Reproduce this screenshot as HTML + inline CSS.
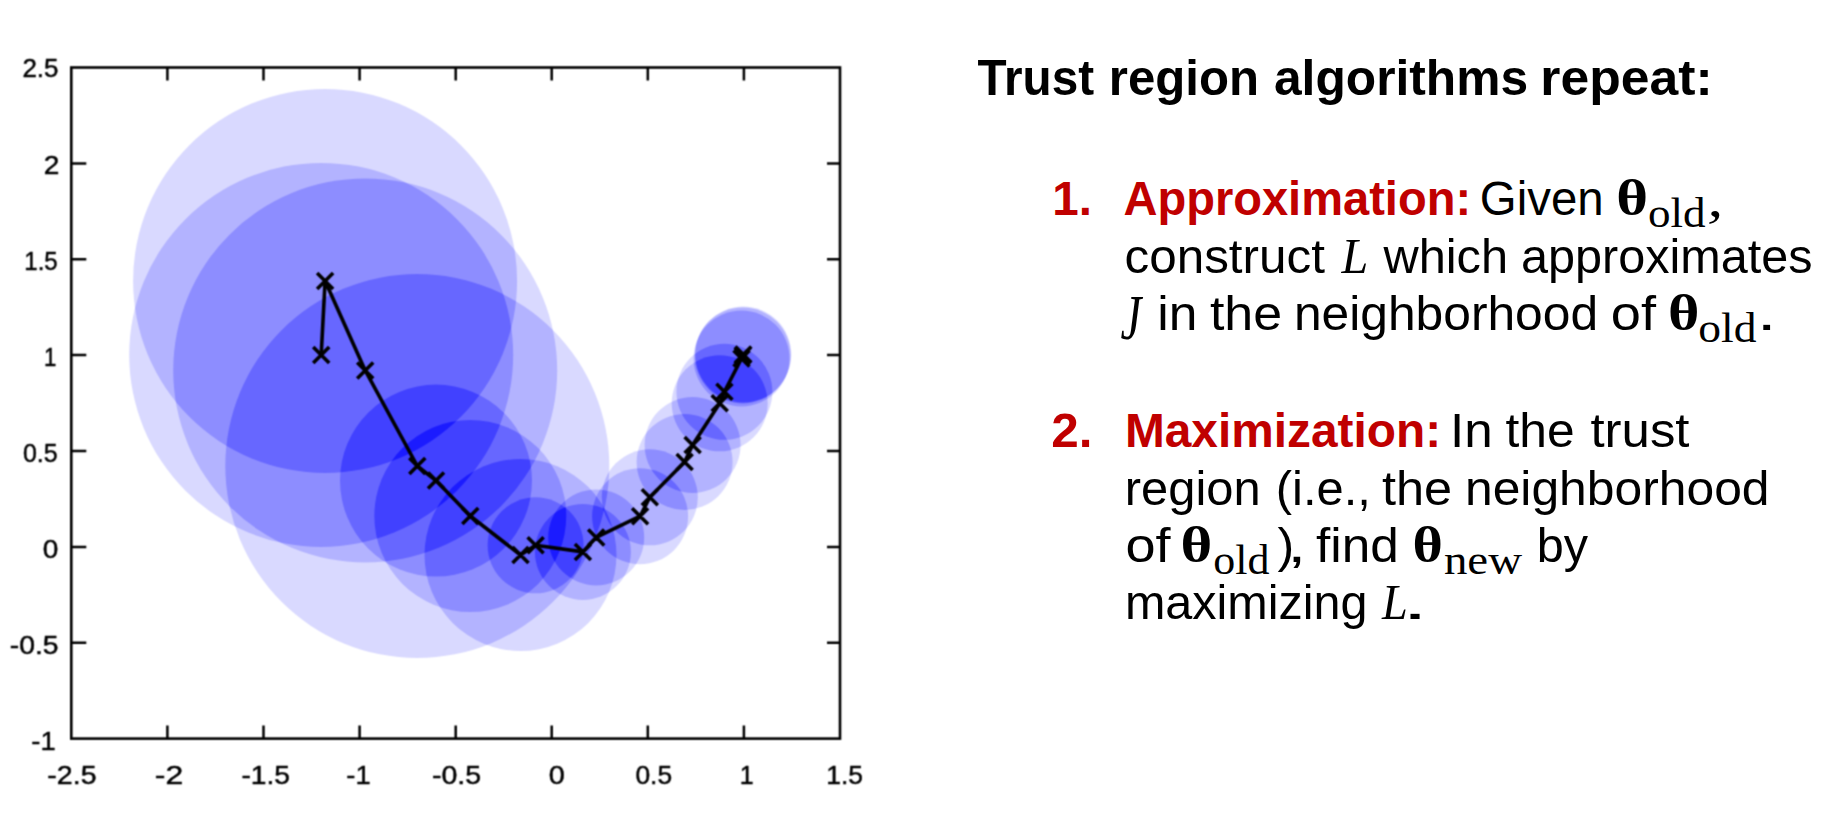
<!DOCTYPE html>
<html><head><meta charset="utf-8"><title>Trust region</title>
<style>
html,body{margin:0;padding:0;background:#fff;}
body{width:1823px;height:824px;overflow:hidden;}
svg{display:block;}
text{white-space:pre;}
.tk{font-family:"Liberation Sans",sans-serif;font-size:25.5px;fill:#000;stroke:#000;stroke-width:0.45px;}
.tb{font-family:"Liberation Sans",sans-serif;font-weight:bold;font-size:50px;fill:#000;}
.rb{font-family:"Liberation Sans",sans-serif;font-weight:bold;font-size:48px;fill:#c00000;}
.r{font-family:"Liberation Sans",sans-serif;font-size:48px;fill:#000;}
.th{font-family:"Liberation Serif","DejaVu Serif",serif;font-weight:bold;font-size:51px;fill:#000;}
.sub{font-family:"Liberation Serif","DejaVu Serif",serif;font-size:42px;fill:#000;}

.mj{font-family:"Liberation Serif","DejaVu Serif",serif;font-style:italic;font-size:63px;fill:#000;}
.mi{font-family:"Liberation Serif","DejaVu Serif",serif;font-style:italic;font-size:51px;fill:#000;}
</style></head><body>
<svg width="1823" height="824" viewBox="0 0 1823 824">
<rect width="1823" height="824" fill="#fff"/>
<defs><filter id="bl" x="0" y="0" width="912" height="824" filterUnits="userSpaceOnUse" color-interpolation-filters="sRGB"><feConvolveMatrix order="3" kernelMatrix="1 2 1 2 5 2 1 2 1" edgeMode="duplicate" preserveAlpha="false"/></filter></defs>
<g id="chart" filter="url(#bl)">
<g style="isolation:isolate"><rect x="100" y="60" width="720" height="620" fill="#fff"/>
<g fill="#262600">
<circle style="mix-blend-mode:difference" cx="321.2" cy="354.9" r="192.0"/>
<circle style="mix-blend-mode:difference" cx="325.1" cy="281.0" r="192.0"/>
<circle style="mix-blend-mode:difference" cx="365.2" cy="370.4" r="192.0"/>
<circle style="mix-blend-mode:difference" cx="417.3" cy="466.0" r="192.0"/>
<circle style="mix-blend-mode:difference" cx="436.0" cy="480.6" r="96.0"/>
<circle style="mix-blend-mode:difference" cx="470.3" cy="516.0" r="96.0"/>
<circle style="mix-blend-mode:difference" cx="520.5" cy="555.0" r="96.0"/>
<circle style="mix-blend-mode:difference" cx="535.6" cy="545.3" r="48.0"/>
<circle style="mix-blend-mode:difference" cx="582.9" cy="551.9" r="48.0"/>
<circle style="mix-blend-mode:difference" cx="596.2" cy="537.4" r="48.0"/>
<circle style="mix-blend-mode:difference" cx="640.1" cy="516.2" r="48.0"/>
<circle style="mix-blend-mode:difference" cx="649.8" cy="497.3" r="48.0"/>
<circle style="mix-blend-mode:difference" cx="684.6" cy="462.0" r="48.0"/>
<circle style="mix-blend-mode:difference" cx="692.6" cy="445.0" r="48.0"/>
<circle style="mix-blend-mode:difference" cx="719.7" cy="403.3" r="48.0"/>
<circle style="mix-blend-mode:difference" cx="724.4" cy="391.8" r="48.0"/>
<circle style="mix-blend-mode:difference" cx="741.5" cy="358.5" r="48.0"/>
<circle style="mix-blend-mode:difference" cx="742.7" cy="355.5" r="48.0"/>
<circle style="mix-blend-mode:difference" cx="743.3" cy="354.5" r="48.0"/>
</g></g>
<polyline fill="none" stroke="#000" stroke-width="3.6" stroke-linejoin="round" points="321.2,354.9 325.1,281.0 365.2,370.4 417.3,466.0 436.0,480.6 470.3,516.0 520.5,555.0 535.6,545.3 582.9,551.9 596.2,537.4 640.1,516.2 649.8,497.3 684.6,462.0 692.6,445.0 719.7,403.3 724.4,391.8 741.5,358.5 742.7,355.5 743.3,354.5"/>
<path d="M313.2 346.9L329.2 362.9M313.2 362.9L329.2 346.9M317.1 273.0L333.1 289.0M317.1 289.0L333.1 273.0M357.2 362.4L373.2 378.4M357.2 378.4L373.2 362.4M409.3 458.0L425.3 474.0M409.3 474.0L425.3 458.0M428.0 472.6L444.0 488.6M428.0 488.6L444.0 472.6M462.3 508.0L478.3 524.0M462.3 524.0L478.3 508.0M512.5 547.0L528.5 563.0M512.5 563.0L528.5 547.0M527.6 537.3L543.6 553.3M527.6 553.3L543.6 537.3M574.9 543.9L590.9 559.9M574.9 559.9L590.9 543.9M588.2 529.4L604.2 545.4M588.2 545.4L604.2 529.4M632.1 508.2L648.1 524.2M632.1 524.2L648.1 508.2M641.8 489.3L657.8 505.3M641.8 505.3L657.8 489.3M676.6 454.0L692.6 470.0M676.6 470.0L692.6 454.0M684.6 437.0L700.6 453.0M684.6 453.0L700.6 437.0M711.7 395.3L727.7 411.3M711.7 411.3L727.7 395.3M716.4 383.8L732.4 399.8M716.4 399.8L732.4 383.8M733.5 350.5L749.5 366.5M733.5 366.5L749.5 350.5M734.7 347.5L750.7 363.5M734.7 363.5L750.7 347.5M735.3 346.5L751.3 362.5M735.3 362.5L751.3 346.5" stroke="#000" stroke-width="3.6" fill="none"/>
<rect x="71.3" y="67.5" width="768.7" height="671.1" fill="none" stroke="#000" stroke-width="2.6"/>
<path d="M167.4 738.6v-13 M167.4 67.5v13 M263.5 738.6v-13 M263.5 67.5v13 M359.6 738.6v-13 M359.6 67.5v13 M455.7 738.6v-13 M455.7 67.5v13 M551.7 738.6v-13 M551.7 67.5v13 M647.8 738.6v-13 M647.8 67.5v13 M743.9 738.6v-13 M743.9 67.5v13 M71.3 642.7h15 M840.0 642.7h-13 M71.3 546.9h15 M840.0 546.9h-13 M71.3 451.0h15 M840.0 451.0h-13 M71.3 355.1h15 M840.0 355.1h-13 M71.3 259.2h15 M840.0 259.2h-13 M71.3 163.4h15 M840.0 163.4h-13 " stroke="#000" stroke-width="2.5" fill="none"/>
</g>
<g id="txt">
<g filter="url(#bl)">
<text id="t0" class="tk" x="47.39" y="784.0" textLength="49.15" lengthAdjust="spacingAndGlyphs">-2.5</text>
<text id="t1" class="tk" x="154.83" y="784.0" textLength="28.38" lengthAdjust="spacingAndGlyphs">-2</text>
<text id="t2" class="tk" x="241.42" y="784.0" textLength="48.66" lengthAdjust="spacingAndGlyphs">-1.5</text>
<text id="t3" class="tk" x="346.35" y="784.0" textLength="24.28" lengthAdjust="spacingAndGlyphs">-1</text>
<text id="t4" class="tk" x="431.96" y="784.0" textLength="49.13" lengthAdjust="spacingAndGlyphs">-0.5</text>
<text id="t5" class="tk" x="548.68" y="784.0" textLength="16.05" lengthAdjust="spacingAndGlyphs">0</text>
<text id="t6" class="tk" x="635.40" y="784.0" textLength="36.70" lengthAdjust="spacingAndGlyphs">0.5</text>
<text id="t7" class="tk" x="739.70" y="784.0" textLength="13.88" lengthAdjust="spacingAndGlyphs">1</text>
<text id="t8" class="tk" x="826.29" y="784.0" textLength="36.79" lengthAdjust="spacingAndGlyphs">1.5</text>
<text id="t9" class="tk" x="22.43" y="77.3" textLength="36.12" lengthAdjust="spacingAndGlyphs">2.5</text>
<text id="t10" class="tk" x="43.68" y="174.3" textLength="15.62" lengthAdjust="spacingAndGlyphs">2</text>
<text id="t11" class="tk" x="24.33" y="270.1" textLength="33.37" lengthAdjust="spacingAndGlyphs">1.5</text>
<text id="t12" class="tk" x="44.03" y="366.0" textLength="12.37" lengthAdjust="spacingAndGlyphs">1</text>
<text id="t13" class="tk" x="22.90" y="461.9" textLength="34.76" lengthAdjust="spacingAndGlyphs">0.5</text>
<text id="t14" class="tk" x="42.71" y="557.8" textLength="15.56" lengthAdjust="spacingAndGlyphs">0</text>
<text id="t15" class="tk" x="9.88" y="653.6" textLength="48.74" lengthAdjust="spacingAndGlyphs">-0.5</text>
<text id="t16" class="tk" x="31.39" y="749.5" textLength="24.35" lengthAdjust="spacingAndGlyphs">-1</text>
</g>
<text id="t17" class="tb" x="977.49" y="95.0" textLength="116.55" lengthAdjust="spacingAndGlyphs">Trust</text>
<text id="t18" class="tb" x="1108.83" y="95.0" textLength="150.29" lengthAdjust="spacingAndGlyphs">region</text>
<text id="t19" class="tb" x="1273.99" y="95.0" textLength="254.04" lengthAdjust="spacingAndGlyphs">algorithms</text>
<text id="t20" class="tb" x="1540.36" y="95.0" textLength="172.34" lengthAdjust="spacingAndGlyphs">repeat:</text>
<text id="t21" class="rb" x="1052.36" y="215.3" textLength="39.67" lengthAdjust="spacingAndGlyphs">1.</text>
<text id="t22" class="rb" x="1123.46" y="215.3" textLength="347.63" lengthAdjust="spacingAndGlyphs">Approximation:</text>
<text id="t23" class="r" x="1479.86" y="215.3" textLength="123.78" lengthAdjust="spacingAndGlyphs">Given</text>
<text id="t24" class="th" x="1616.16" y="215.3" textLength="31.82" lengthAdjust="spacingAndGlyphs">θ</text>
<text id="t25" class="sub" x="1647.91" y="227.3" textLength="57.60" lengthAdjust="spacingAndGlyphs">old</text>
<text id="t26" class="mi" x="1707.33" y="216.3" textLength="16.09" lengthAdjust="spacingAndGlyphs">,</text>
<text id="t27" class="r" x="1124.46" y="272.6" textLength="200.55" lengthAdjust="spacingAndGlyphs">construct</text>
<text id="t28" class="mi" x="1341.47" y="272.6" textLength="26.76" lengthAdjust="spacingAndGlyphs">L</text>
<text id="t29" class="r" x="1383.50" y="272.6" textLength="124.58" lengthAdjust="spacingAndGlyphs">which</text>
<text id="t30" class="r" x="1520.97" y="272.6" textLength="291.56" lengthAdjust="spacingAndGlyphs">approximates</text>
<text id="t31" class="mj" x="1120.47" y="338.6" textLength="20.78" lengthAdjust="spacingAndGlyphs">J</text>
<text id="t32" class="r" x="1157.35" y="330.1" textLength="40.11" lengthAdjust="spacingAndGlyphs">in</text>
<text id="t33" class="r" x="1209.93" y="330.1" textLength="72.20" lengthAdjust="spacingAndGlyphs">the</text>
<text id="t34" class="r" x="1293.94" y="330.1" textLength="304.13" lengthAdjust="spacingAndGlyphs">neighborhood</text>
<text id="t35" class="r" x="1610.85" y="330.1" textLength="45.15" lengthAdjust="spacingAndGlyphs">of</text>
<text id="t36" class="th" x="1667.92" y="330.1" textLength="31.45" lengthAdjust="spacingAndGlyphs">θ</text>
<text id="t37" class="sub" x="1698.38" y="342.1" textLength="58.13" lengthAdjust="spacingAndGlyphs">old</text>
<text id="t38" class="r" x="1756.75" y="330.1" textLength="19.86" lengthAdjust="spacingAndGlyphs">.</text>
<text id="t39" class="rb" x="1051.28" y="447.1" textLength="41.22" lengthAdjust="spacingAndGlyphs">2.</text>
<text id="t40" class="rb" x="1124.93" y="447.1" textLength="316.16" lengthAdjust="spacingAndGlyphs">Maximization:</text>
<text id="t41" class="r" x="1449.97" y="447.1" textLength="42.68" lengthAdjust="spacingAndGlyphs">In</text>
<text id="t42" class="r" x="1505.44" y="447.1" textLength="69.16" lengthAdjust="spacingAndGlyphs">the</text>
<text id="t43" class="r" x="1590.48" y="447.1" textLength="99.05" lengthAdjust="spacingAndGlyphs">trust</text>
<text id="t44" class="r" x="1124.86" y="504.7" textLength="135.77" lengthAdjust="spacingAndGlyphs">region</text>
<text id="t45" class="r" x="1275.76" y="504.7" textLength="95.10" lengthAdjust="spacingAndGlyphs">(i.e.,</text>
<text id="t46" class="r" x="1381.96" y="504.7" textLength="70.19" lengthAdjust="spacingAndGlyphs">the</text>
<text id="t47" class="r" x="1464.94" y="504.7" textLength="304.62" lengthAdjust="spacingAndGlyphs">neighborhood</text>
<text id="t48" class="r" x="1125.42" y="562.1" textLength="45.12" lengthAdjust="spacingAndGlyphs">of</text>
<text id="t49" class="th" x="1180.59" y="562.1" textLength="31.79" lengthAdjust="spacingAndGlyphs">θ</text>
<text id="t50" class="sub" x="1213.39" y="573.6" textLength="56.13" lengthAdjust="spacingAndGlyphs">old</text>
<text id="t51" class="r" x="1277.62" y="562.1" textLength="16.68" lengthAdjust="spacingAndGlyphs">)</text>
<text id="t52" class="r" x="1287.16" y="562.1" textLength="19.09" lengthAdjust="spacingAndGlyphs">,</text>
<text id="t53" class="r" x="1315.99" y="562.1" textLength="82.72" lengthAdjust="spacingAndGlyphs">find</text>
<text id="t54" class="th" x="1412.46" y="562.1" textLength="30.40" lengthAdjust="spacingAndGlyphs">θ</text>
<text id="t55" class="sub" x="1443.96" y="573.6" textLength="78.04" lengthAdjust="spacingAndGlyphs">new</text>
<text id="t56" class="r" x="1536.74" y="562.1" textLength="51.31" lengthAdjust="spacingAndGlyphs">by</text>
<text id="t57" class="r" x="1124.92" y="619.2" textLength="242.65" lengthAdjust="spacingAndGlyphs">maximizing</text>
<text id="t58" class="mi" x="1381.94" y="619.2" textLength="25.76" lengthAdjust="spacingAndGlyphs">L</text>
<text id="t59" class="r" x="1401.86" y="619.2" textLength="26.58" lengthAdjust="spacingAndGlyphs">.</text>
</g>
</svg>
</body></html>
